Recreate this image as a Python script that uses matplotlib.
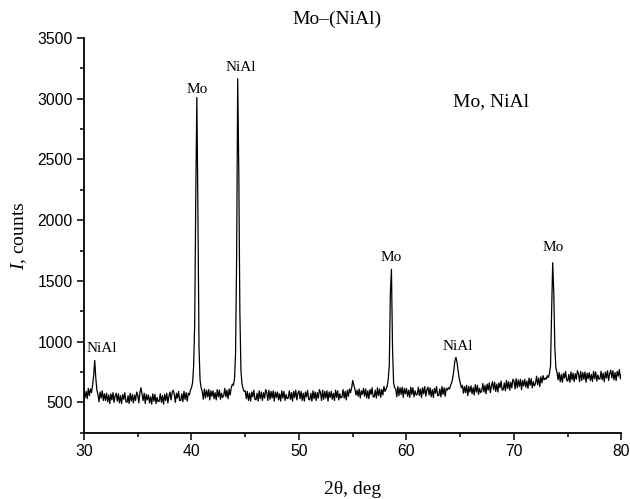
import numpy as np
import matplotlib
matplotlib.use("Agg")
import matplotlib.pyplot as plt
from matplotlib.ticker import MultipleLocator

plt.rcParams['mathtext.fontset'] = 'custom'
plt.rcParams['mathtext.rm'] = 'Liberation Serif'
plt.rcParams['mathtext.it'] = 'Liberation Serif:italic'

# 2theta from 30.0 to 80.0, step 0.1 (one row per degree)
two_theta = np.round(np.arange(300, 801) * 0.1, 1)
counts = [
    605, 540, 590, 530, 615, 555, 610, 580, 640, 720,      # 30
    845, 700, 600, 565, 505, 585, 535, 595, 515, 570,      # 31
    515, 575, 505, 560, 490, 570, 520, 580, 500, 555,      # 32
    575, 510, 570, 495, 555, 490, 565, 525, 580, 505,      # 33
    500, 555, 490, 575, 510, 565, 495, 560, 515, 585,      # 34
    560, 495, 580, 620, 570, 515, 575, 490, 565, 520,      # 35
    560, 495, 545, 485, 570, 510, 565, 490, 540, 505,      # 36
    510, 570, 500, 555, 485, 565, 515, 575, 495, 550,      # 37
    585, 520, 580, 600, 565, 500, 575, 535, 590, 515,      # 38
    515, 570, 505, 590, 525, 580, 510, 575, 560, 600,      # 39
    620, 660, 800, 1150, 2200, 3010, 2050, 950, 680, 620,  # 40
    590, 525, 610, 535, 600, 545, 605, 520, 595, 550,      # 41
    595, 530, 580, 520, 605, 545, 600, 525, 575, 540,      # 42
    555, 615, 545, 600, 530, 610, 560, 620, 650, 640,      # 43
    690, 900, 1700, 3165, 2400, 1250, 760, 650, 610, 590,  # 44
    595, 530, 590, 515, 575, 510, 585, 545, 600, 525,      # 45
    520, 575, 510, 595, 530, 585, 515, 580, 535, 605,      # 46
    580, 515, 600, 525, 590, 535, 595, 510, 585, 540,      # 47
    585, 520, 570, 510, 595, 535, 590, 515, 565, 530,      # 48
    535, 595, 525, 580, 510, 590, 540, 600, 520, 575,      # 49
    595, 530, 590, 515, 575, 510, 585, 545, 600, 525,      # 50
    520, 575, 510, 595, 530, 585, 515, 580, 535, 605,      # 51
    580, 515, 600, 525, 590, 535, 595, 510, 585, 540,      # 52
    590, 525, 575, 515, 600, 540, 595, 520, 570, 535,      # 53
    545, 605, 535, 590, 520, 600, 550, 610, 580, 620,      # 54
    680, 640, 610, 560, 600, 550, 610, 535, 595, 565,      # 55
    615, 550, 610, 535, 595, 530, 605, 565, 620, 545,      # 56
    545, 600, 535, 620, 555, 610, 540, 605, 560, 630,      # 57
    590, 610, 630, 690, 800, 1400, 1595, 950, 660, 620,    # 58
    610, 545, 630, 555, 620, 565, 625, 540, 615, 570,      # 59
    615, 550, 600, 540, 625, 565, 620, 545, 595, 560,      # 60
    565, 625, 555, 610, 540, 620, 570, 630, 550, 605,      # 61
    625, 560, 620, 545, 605, 540, 615, 575, 630, 555,      # 62
    555, 610, 545, 630, 565, 620, 550, 615, 600, 620,      # 63
    610, 640, 660, 700, 760, 840, 870, 830, 760, 700,      # 64
    660, 620, 640, 575, 630, 580, 640, 555, 630, 585,      # 65
    635, 570, 620, 560, 645, 585, 640, 565, 615, 580,      # 66
    595, 655, 585, 640, 570, 650, 600, 660, 580, 635,      # 67
    670, 605, 665, 590, 650, 585, 660, 620, 675, 600,      # 68
    605, 660, 595, 680, 615, 670, 600, 665, 620, 690,      # 69
    675, 610, 695, 620, 685, 630, 690, 605, 680, 635,      # 70
    690, 625, 675, 615, 700, 640, 695, 620, 670, 635,      # 71
    655, 715, 645, 700, 630, 710, 660, 720, 685, 700,      # 72
    690, 720, 705, 740, 800, 1250, 1650, 1400, 950, 780,   # 73
    750, 685, 745, 670, 730, 665, 740, 700, 755, 680,      # 74
    675, 730, 665, 750, 685, 740, 670, 735, 690, 760,      # 75
    735, 670, 755, 680, 745, 690, 750, 665, 740, 695,      # 76
    745, 680, 730, 670, 755, 695, 750, 675, 725, 690,      # 77
    695, 755, 685, 740, 670, 750, 700, 760, 680, 735,      # 78
    765, 700, 760, 685, 745, 680, 755, 715, 770, 695,      # 79
    735,                                                   # 80
]

# peak labels: text, x, y
labels = ["NiAl", "Mo", "NiAl", "Mo", "NiAl", "Mo"]
label_x = [31.7, 40.5, 44.6, 58.6, 64.75, 73.6]
label_y = [945, 3076, 3257, 1690, 960, 1775]

serif = "Liberation Serif"
sans = "Liberation Sans"

fig = plt.figure(figsize=(6.3, 4.99), dpi=100)
ax = fig.add_axes([0.1333, 0.1329, 0.8532, 0.7909])

ax.plot(two_theta, counts, color='black', lw=0.9)

for t, x, y in zip(labels, label_x, label_y):
    ax.text(x, y, t, ha='center', va='center', fontsize=11, family=serif)
ax.text(67.85, 2975, "Mo, NiAl", ha='center', va='center', fontsize=14, family=serif)

ax.set_xlim(30, 80)
ax.set_ylim(250, 3500)
ax.xaxis.set_major_locator(MultipleLocator(10))
ax.xaxis.set_minor_locator(MultipleLocator(5))
ax.yaxis.set_major_locator(MultipleLocator(500))
ax.yaxis.set_minor_locator(MultipleLocator(250))
ax.tick_params(which='major', direction='out', length=5, width=1.1, labelsize=11.3, pad=3)
ax.tick_params(which='minor', direction='out', length=3, width=1.1)
for lab in ax.get_xticklabels() + ax.get_yticklabels():
    lab.set_family(sans)

ax.spines['top'].set_visible(False)
ax.spines['right'].set_visible(False)
ax.spines['left'].set_linewidth(1.3)
ax.spines['bottom'].set_linewidth(1.3)

ax.set_xlabel("2θ, deg", family=serif, fontsize=14, labelpad=16)
ax.set_ylabel(r"$\it{I}$, counts", family=serif, fontsize=14, labelpad=6)

fig.text(0.535, 0.962, "Mo–(NiAl)", ha='center', va='center', fontsize=14, family=serif)

fig.savefig("out.png", dpi=100)
